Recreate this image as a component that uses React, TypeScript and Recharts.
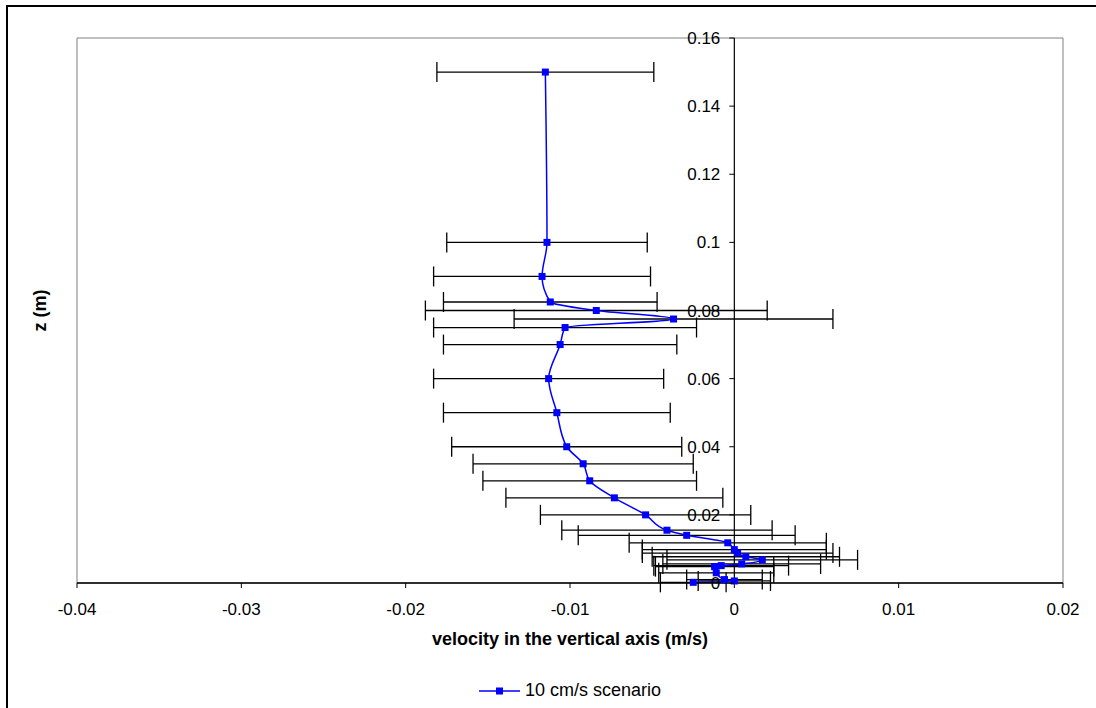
import React from 'react';
import {
  ComposedChart,
  Line,
  XAxis,
  YAxis,
  ErrorBar,
  ReferenceLine,
  ReferenceArea,
  Legend,
} from 'recharts';

// height above the bed (m), vertical velocity (m/s), error bar half-width (m/s)
const heights = [
  0.0002, 0.0006, 0.001, 0.003, 0.0048, 0.0051, 0.0056, 0.0068, 0.0077, 0.0088,
  0.0098, 0.0118, 0.014, 0.0155, 0.02, 0.025, 0.03, 0.035, 0.04, 0.05,
  0.06, 0.07, 0.075, 0.0775, 0.08, 0.0825, 0.09, 0.1, 0.15,
];
const velocities = [
  -0.0025, 0.0, -0.0006, -0.0011, -0.0012, -0.0008, 0.00045, 0.0017, 0.0007, 0.0002,
  0.0, -0.0004, -0.0029, -0.0041, -0.0054, -0.0073, -0.0088, -0.0092, -0.0102, -0.0108,
  -0.0113, -0.0106, -0.0103, -0.0037, -0.0084, -0.0112, -0.0117, -0.0114, -0.0115,
];
const spreads = [
  0.002, 0.0022, 0.0023, 0.0035, 0.0036, 0.0041, 0.0048, 0.0058, 0.0057, 0.0058,
  0.0056, 0.006, 0.0066, 0.0064, 0.0064, 0.0066, 0.0065, 0.0067, 0.007, 0.0069,
  0.007, 0.0071, 0.008, 0.0097, 0.0104, 0.0065, 0.0066, 0.0061, 0.0066,
];

const velocityTicks = [-0.04, -0.03, -0.02, -0.01, 0, 0.01, 0.02];
const velocityLabels = ['-0.04', '-0.03', '-0.02', '-0.01', '0', '0.01', '0.02'];
const heightTicks = [0, 0.02, 0.04, 0.06, 0.08, 0.1, 0.12, 0.14, 0.16];
const heightLabels = ['0', '0.02', '0.04', '0.06', '0.08', '0.1', '0.12', '0.14', '0.16'];
const seriesName = '10 cm/s scenario';

const rows = heights.map((z, i) => ({ z, v: velocities[i], err: spreads[i] }));

const W = 1096;
const H = 708;
const margin = { top: 38, right: 33, bottom: 50, left: 76 };
const yAxisW = 1;
const plotLeft = margin.left + yAxisW;
const plotW = W - plotLeft - margin.right;
const xMin = velocityTicks[0];
const xMax = velocityTicks[velocityTicks.length - 1];
const font = '"Liberation Sans", Arial, sans-serif';
const blue = '#0000FF';

// y axis crosses at velocity 0, so its ticks are drawn there
const HeightTick = ({ y, payload }: any) => {
  const ax = plotLeft + (plotW * (0 - xMin)) / (xMax - xMin);
  const i = heightTicks.indexOf(payload.value);
  return (
    <g>
      <line x1={ax - 5} x2={ax} y1={y} y2={y} stroke="#000" />
      <text x={ax - 14} y={y} dy="0.36em" textAnchor="end" fontSize={17} fontFamily={font} fill="#000">
        {i >= 0 ? heightLabels[i] : payload.value}
      </text>
    </g>
  );
};

const SquareDot = (p: any) => (
  <rect key={`dot-${p.index}`} x={p.cx - 3.5} y={p.cy - 3.5} width={7} height={7} fill={blue} />
);

const LegendBox = () => (
  <div
    style={{
      display: 'flex',
      justifyContent: 'center',
      alignItems: 'center',
      fontFamily: font,
      fontSize: 18,
      color: '#000',
    }}
  >
    <svg width={42} height={10}>
      <line x1={0} x2={41} y1={5} y2={5} stroke={blue} strokeWidth={1.5} />
      <rect x={17} y={1.5} width={7} height={7} fill={blue} />
    </svg>
    <span style={{ marginLeft: 4 }}>{seriesName}</span>
  </div>
);

const App = () => {
  return (
    <div style={{ position: 'absolute', left: 0, top: 0, width: W, height: H, overflow: 'hidden', background: '#fff' }}>
      <div
        style={{
          position: 'absolute',
          left: 6,
          top: 5,
          width: 1200,
          height: 900,
          border: '2px solid #000',
        }}
      />
      <div style={{ position: 'absolute', left: 0, top: 0 }}>
        <ComposedChart layout="vertical" width={W} height={H} data={rows} margin={margin}>
          <ReferenceArea x1={xMin} x2={xMax} y1={0} y2={0.16} fill="#fff" fillOpacity={0} stroke="#808080" strokeWidth={1} />
          <XAxis
            type="number"
            domain={[xMin, xMax]}
            ticks={velocityTicks}
            tickFormatter={(v: number) => velocityLabels[velocityTicks.indexOf(v)] ?? String(v)}
            height={75}
            tickSize={5}
            tickMargin={15}
            axisLine={{ stroke: '#000', strokeWidth: 1.3 }}
            tickLine={{ stroke: '#000' }}
            tick={{ fill: '#000', fontSize: 17, fontFamily: font }}
            label={{
              content: ({ viewBox }: any) => (
                <text
                  x={viewBox.x + viewBox.width / 2}
                  y={viewBox.y + 56}
                  dy="0.36em"
                  textAnchor="middle"
                  fontSize={18}
                  fontWeight="bold"
                  fontFamily={font}
                  fill="#000"
                >
                  velocity in the vertical axis (m/s)
                </text>
              ),
            }}
          />
          <YAxis
            type="number"
            dataKey="z"
            domain={[0, 0.16]}
            ticks={heightTicks}
            reversed
            width={yAxisW}
            axisLine={false}
            tickLine={false}
            tick={<HeightTick />}
            label={{
              content: ({ viewBox }: any) => {
                const cx = plotLeft - 37;
                const cy = viewBox.y + viewBox.height / 2;
                return (
                  <text
                    x={cx}
                    y={cy}
                    dy="0.36em"
                    textAnchor="middle"
                    transform={`rotate(-90 ${cx} ${cy})`}
                    fontSize={18}
                    fontWeight="bold"
                    fontFamily={font}
                    fill="#000"
                  >
                    z (m)
                  </text>
                );
              },
            }}
          />
          <ReferenceLine x={0} stroke="#000" strokeWidth={1.2} />
          <Line
            name={seriesName}
            dataKey="v"
            type="monotone"
            stroke={blue}
            strokeWidth={1.5}
            dot={SquareDot}
            activeDot={false}
            isAnimationActive={false}
          >
            <ErrorBar dataKey="err" direction="x" width={10} stroke="#000" strokeWidth={1.3} />
          </Line>
          <Legend
            verticalAlign="middle"
            align="center"
            layout="horizontal"
            content={<LegendBox />}
            wrapperStyle={{ top: 680, left: plotLeft, width: plotW }}
          />
        </ComposedChart>
      </div>
    </div>
  );
};

export default App;
